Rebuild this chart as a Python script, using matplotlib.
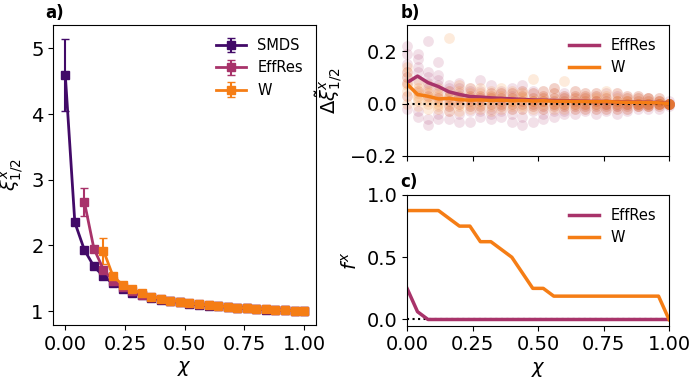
import numpy as np
import matplotlib.pyplot as plt

chi = np.round(np.arange(0, 1.0001, 0.04), 2)

# panel a: xi_1/2 vs chi
smds_y = [4.60, 2.35, 1.93, 1.68, 1.53, 1.42, 1.34, 1.28, 1.24, 1.20, 1.17, 1.15, 1.13,
          1.11, 1.095, 1.08, 1.07, 1.06, 1.05, 1.04, 1.03, 1.022, 1.015, 1.01, 1.005, 1.0]
smds_err = [0.55, 0.02, 0.02, 0.02, 0.01, 0.01, 0.01, 0.01, 0.01, 0.01, 0.01, 0.01, 0.01,
            0.01, 0.01, 0.01, 0.01, 0.01, 0.01, 0.01, 0.01, 0.01, 0.01, 0.01, 0.01, 0.0]
effres_x = chi[2:]
effres_y = [2.66, 1.95, 1.63, 1.46, 1.36, 1.30, 1.25, 1.21, 1.18, 1.155, 1.135, 1.115,
            1.10, 1.085, 1.072, 1.062, 1.052, 1.042, 1.033, 1.025, 1.017, 1.01, 1.005, 1.0]
effres_err = [0.21, 0.04, 0.03, 0.02, 0.01, 0.01, 0.01, 0.01, 0.01, 0.01, 0.01, 0.01,
              0.01, 0.01, 0.01, 0.01, 0.01, 0.01, 0.01, 0.01, 0.01, 0.01, 0.01, 0.0]
w_x = chi[4:]
w_y = [1.92, 1.53, 1.40, 1.33, 1.27, 1.22, 1.19, 1.16, 1.14, 1.12, 1.10, 1.09, 1.075,
       1.065, 1.05, 1.045, 1.035, 1.025, 1.015, 1.01, 1.005, 1.0]
w_err = [0.20, 0.04, 0.02, 0.02, 0.01, 0.01, 0.01, 0.01, 0.01, 0.01, 0.01, 0.01, 0.01,
         0.01, 0.01, 0.01, 0.01, 0.01, 0.01, 0.01, 0.01, 0.0]

# panel b: per-run differences (scatter) and means (lines)
effres_runs = [
    [0.22, 0.19, 0.15, 0.12, 0.10, 0.08, 0.03, -0.02],
    [0.19, 0.17, 0.14, 0.12, 0.09, 0.05, -0.03, -0.05],
    [0.24, 0.12, 0.10, 0.08, 0.06, 0.03, -0.06, -0.08],
    [0.16, 0.11, 0.09, 0.07, 0.05, 0.02, -0.04, -0.06],
    [0.07, 0.06, 0.05, 0.03, 0.01, -0.01, -0.03, -0.06],
    [0.08, 0.06, 0.04, 0.03, 0.02, 0.00, -0.04, -0.07],
    [0.06, 0.05, 0.03, 0.02, 0.01, -0.01, -0.03, -0.07],
    [0.09, 0.05, 0.03, 0.02, 0.01, -0.01, -0.03, -0.05],
    [0.07, 0.04, 0.03, 0.02, 0.00, -0.02, -0.04, -0.06],
    [0.05, 0.04, 0.02, 0.01, 0.00, -0.01, -0.03, -0.05],
    [0.06, 0.04, 0.03, 0.02, 0.00, -0.02, -0.04, -0.07],
    [0.07, 0.05, 0.03, 0.01, 0.00, -0.02, -0.05, -0.08],
    [0.05, 0.04, 0.02, 0.01, 0.00, -0.01, -0.03, -0.07],
    [0.05, 0.03, 0.02, 0.01, -0.01, -0.02, -0.04, -0.06],
    [0.06, 0.04, 0.02, 0.01, 0.00, -0.01, -0.03, -0.05],
    [0.04, 0.03, 0.02, 0.01, 0.00, -0.01, -0.03, -0.04],
    [0.05, 0.03, 0.02, 0.01, 0.00, -0.01, -0.02, -0.04],
    [0.04, 0.03, 0.02, 0.01, 0.00, -0.01, -0.02, -0.03],
    [0.04, 0.03, 0.01, 0.01, 0.00, -0.01, -0.02, -0.04],
    [0.04, 0.02, 0.01, 0.00, 0.00, -0.01, -0.02, -0.03],
    [0.04, 0.03, 0.01, 0.00, -0.01, -0.01, -0.02, -0.04],
    [0.03, 0.02, 0.01, 0.00, 0.00, -0.01, -0.02, -0.03],
    [0.03, 0.02, 0.01, 0.00, 0.00, -0.01, -0.01, -0.02],
    [0.02, 0.02, 0.01, 0.00, 0.00, -0.01, -0.01, -0.02],
    [0.02, 0.01, 0.01, 0.00, 0.00, 0.00, -0.01, -0.02],
    [0.01, 0.00, 0.00, 0.00, 0.00, 0.00, 0.00, -0.01],
]
w_runs = [
    [0.14, 0.12, 0.10, 0.08, 0.07, 0.05, 0.03, 0.00],
    [0.08, 0.06, 0.05, 0.04, 0.03, 0.02, 0.01, -0.01],
    [0.07, 0.05, 0.04, 0.03, 0.02, 0.01, 0.00, -0.02],
    [0.06, 0.04, 0.03, 0.02, 0.01, 0.00, -0.01, -0.02],
    [0.25, 0.05, 0.03, 0.02, 0.01, 0.00, -0.01, -0.03],
    [0.07, 0.05, 0.03, 0.02, 0.01, 0.00, -0.01, -0.03],
    [0.06, 0.04, 0.03, 0.02, 0.01, 0.00, -0.01, -0.02],
    [0.06, 0.04, 0.03, 0.02, 0.01, 0.00, -0.01, -0.02],
    [0.05, 0.04, 0.03, 0.02, 0.01, 0.00, -0.01, -0.03],
    [0.06, 0.04, 0.03, 0.02, 0.01, 0.00, -0.01, -0.02],
    [0.05, 0.04, 0.02, 0.01, 0.01, 0.00, -0.01, -0.02],
    [0.05, 0.04, 0.03, 0.02, 0.01, 0.00, -0.01, -0.02],
    [0.095, 0.04, 0.02, 0.01, 0.01, 0.00, -0.01, -0.02],
    [0.05, 0.03, 0.02, 0.01, 0.01, 0.00, -0.01, -0.02],
    [0.06, 0.04, 0.02, 0.01, 0.00, 0.00, -0.01, -0.02],
    [0.085, 0.03, 0.02, 0.01, 0.00, 0.00, -0.01, -0.02],
    [0.05, 0.03, 0.02, 0.01, 0.00, 0.00, -0.01, -0.02],
    [0.04, 0.03, 0.02, 0.01, 0.00, 0.00, -0.01, -0.02],
    [0.04, 0.03, 0.02, 0.01, 0.00, 0.00, -0.01, -0.02],
    [0.05, 0.03, 0.02, 0.01, 0.00, 0.00, -0.01, -0.02],
    [0.04, 0.02, 0.01, 0.01, 0.00, 0.00, -0.01, -0.02],
    [0.03, 0.02, 0.01, 0.01, 0.00, 0.00, -0.01, -0.02],
    [0.03, 0.02, 0.01, 0.00, 0.00, 0.00, -0.01, -0.01],
    [0.02, 0.02, 0.01, 0.00, 0.00, 0.00, -0.01, -0.01],
    [0.02, 0.01, 0.01, 0.00, 0.00, 0.00, 0.00, -0.01],
    [0.00, 0.00, 0.00, 0.00, 0.00, 0.00, 0.00, 0.00],
]
effres_mean = [0.08, 0.105, 0.08, 0.065, 0.045, 0.035, 0.027, 0.025, 0.022, 0.02, 0.018,
               0.016, 0.014, 0.013, 0.012, 0.011, 0.01, 0.009, 0.008, 0.008, 0.007,
               0.006, 0.006, 0.005, 0.004, 0.0]
w_mean = [0.075, 0.035, 0.028, 0.018, 0.02, 0.015, 0.013, 0.014, 0.012, 0.013, 0.011,
          0.012, 0.01, 0.011, 0.009, 0.009, 0.008, 0.008, 0.007, 0.008, 0.006, 0.005,
          0.005, 0.004, 0.003, 0.0]

# panel c: fraction f^x
effres_f = [0.25, 0.0625] + [0.0] * 24
w_f = [0.875, 0.875, 0.875, 0.875, 0.8125, 0.75, 0.75, 0.625, 0.625, 0.5625, 0.5,
       0.375, 0.25, 0.25] + [0.1875] * 11 + [0.0]

c_smds = '#420a68'
c_eff = '#a8336a'
c_w = '#f57d15'

plt.rcParams['font.size'] = 14

fig = plt.figure(figsize=(6.9, 3.79), dpi=100)
ax_a = fig.add_axes([0.0773, 0.1425, 0.3807, 0.7916])
ax_b = fig.add_axes([0.5899, 0.5884, 0.3797, 0.3456])
ax_c = fig.add_axes([0.5899, 0.1406, 0.3797, 0.3449])

ekw = dict(marker='s', ms=6, lw=2, capsize=3, elinewidth=1.5)
ax_a.errorbar(chi, smds_y, yerr=smds_err, color=c_smds, label='SMDS', **ekw)
ax_a.errorbar(effres_x, effres_y, yerr=effres_err, color=c_eff, label='EffRes', **ekw)
ax_a.errorbar(w_x, w_y, yerr=w_err, color=c_w, label='W', **ekw)
ax_a.set_xlabel(r'$\chi$')
ax_a.set_ylabel(r'$\xi^x_{1/2}$')
ax_a.set_xticks([0, 0.25, 0.5, 0.75, 1.0])
ax_a.set_yticks([1, 2, 3, 4, 5])
ax_a.legend(loc='upper right', frameon=False, fontsize=10.5)

for i, x in enumerate(chi):
    ax_b.scatter([x] * len(effres_runs[i]), effres_runs[i], s=60, color=c_eff,
                 alpha=0.15, lw=0, clip_on=False)
for i, x in enumerate(chi):
    ax_b.scatter([x] * len(w_runs[i]), w_runs[i], s=60, color=c_w,
                 alpha=0.15, lw=0, clip_on=False)
ax_b.axhline(0, color='k', ls=':', lw=1.5)
ax_b.plot(chi, effres_mean, color=c_eff, lw=2.5, label='EffRes')
ax_b.plot(chi, w_mean, color=c_w, lw=2.5, label='W')
ax_b.set_xlim(0, 1)
ax_b.set_ylim(-0.2, 0.3)
ax_b.set_xticks([0, 0.25, 0.5, 0.75, 1.0])
ax_b.set_xticklabels([])
ax_b.set_yticks([-0.2, 0.0, 0.2])
ax_b.set_ylabel(r'$\Delta\tilde{\xi}^x_{1/2}$')
ax_b.legend(loc='upper right', frameon=False, fontsize=10.5)

ax_c.axhline(0, color='k', ls=':', lw=1.5)
ax_c.plot(chi, effres_f, color=c_eff, lw=2.5, label='EffRes')
ax_c.plot(chi, w_f, color=c_w, lw=2.5, label='W')
ax_c.set_xlim(0, 1)
ax_c.set_ylim(-0.05, 1.0)
ax_c.set_xticks([0, 0.25, 0.5, 0.75, 1.0])
ax_c.set_yticks([0.0, 0.5, 1.0])
ax_c.set_xlabel(r'$\chi$')
ax_c.set_ylabel(r'$f^x$')
ax_c.legend(loc='upper right', frameon=False, fontsize=10.5)

fig.text(0.065, 0.965, 'a)', fontsize=12, fontweight='bold', va='center')
fig.text(0.58, 0.965, 'b)', fontsize=12, fontweight='bold', va='center')
fig.text(0.58, 0.52, 'c)', fontsize=12, fontweight='bold', va='center')

fig.savefig('out.png', dpi=100)
